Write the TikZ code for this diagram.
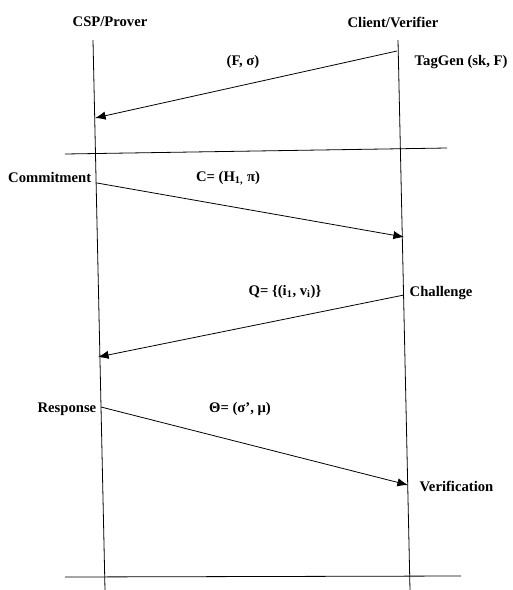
\documentclass[tikz,border=0pt]{standalone}
\usepackage{fontspec}
\setmainfont{Liberation Serif}
\usetikzlibrary{arrows.meta,positioning}

\begin{document}
\begin{tikzpicture}[x=0.75pt, y=-0.75pt, line width=0.6pt, every node/.style={font=\bfseries\fontsize{11}{13}\selectfont, inner sep=1pt}]
    \useasboundingbox (0,0) rectangle (512,590);
    % lifelines
    \coordinate (csptop) at (93,40);
    \coordinate (cspbot) at (105,590);
    \coordinate (clitop) at (398,40);
    \coordinate (clibot) at (410,590);
    \draw (csptop) -- (cspbot);
    \draw (clitop) -- (clibot);
    \node (csp) at (110,22) {CSP/Prover};
    \node (client) at (393,22) {Client/Verifier};
    % separators
    \coordinate (sepa) at (65,154);
    \coordinate (sepb) at (447,148);
    \coordinate (sepc) at (65,577);
    \coordinate (sepd) at (461,576);
    \draw (sepa) -- (sepb);
    \draw (sepc) -- (sepd);
    % message end points
    \coordinate (tagfrom) at (397,51);
    \coordinate (tagto) at (95,118);
    \coordinate (comfrom) at (97,183);
    \coordinate (comto) at (404,237);
    \coordinate (chalfrom) at (404,295);
    \coordinate (chalto) at (98,357);
    \coordinate (respfrom) at (101,407);
    \coordinate (respto) at (408,485);
    \draw[-{Latex[length=2.8mm,width=2.2mm]}] (tagfrom) -- (tagto);
    \draw[-{Latex[length=2.8mm,width=2.2mm]}] (comfrom) -- (comto);
    \draw[-{Latex[length=2.8mm,width=2.2mm]}] (chalfrom) -- (chalto);
    \draw[-{Latex[length=2.8mm,width=2.2mm]}] (respfrom) -- (respto);
    % labels
    \node (fsig) at (243,62) {(F, σ)};
    \node[anchor=west] (taggen) at (413,62) {TagGen (sk, F)};
    \node[anchor=east] (commit) at (93,177) {Commitment};
    \node (cmsg) at (228,178) {C= (H\textsubscript{1,} π)};
    \node (qmsg) at (285,292) {Q= \{(i\textsubscript{1}, v\textsubscript{i})\}};
    \node[anchor=west] (chal) at (408,293) {Challenge};
    \node[anchor=east] (resp) at (98,409) {Response};
    \node (theta) at (240,409) {Θ= (σ’, μ)};
    \node[anchor=west] (verif) at (418,486) {Verification};
  \end{tikzpicture}
\end{document}
